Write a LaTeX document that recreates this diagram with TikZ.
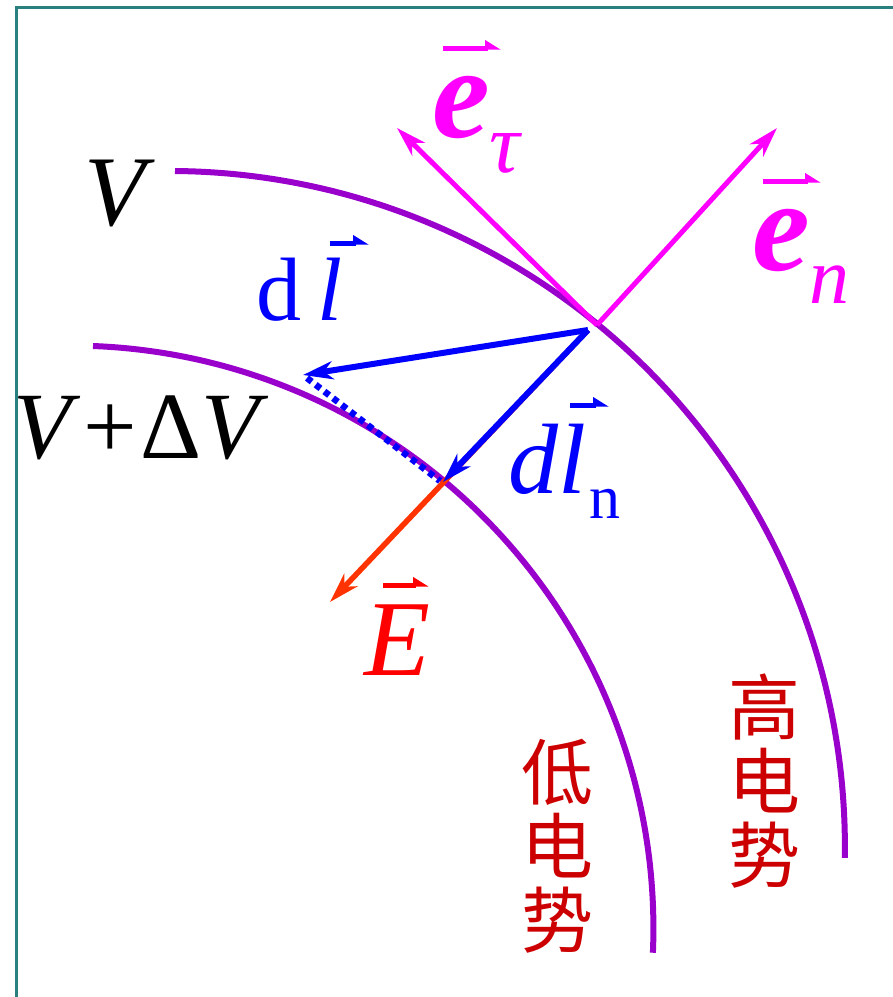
\documentclass[tikz,border=0pt]{standalone}
\usepackage{fontspec}
\setmainfont{Liberation Serif}
\newfontfamily\cjk{Noto Sans CJK SC}
\usetikzlibrary{arrows.meta}
\definecolor{frameteal}{HTML}{2A7F7F}
\definecolor{arcpurple}{HTML}{9900CC}
\definecolor{vmag}{HTML}{FF00FF}
\definecolor{vblue}{HTML}{0000FF}
\definecolor{eorange}{HTML}{FF3300}
\definecolor{ered}{HTML}{FF0000}
\definecolor{cjkred}{HTML}{CC0000}
\begin{document}
\begin{tikzpicture}[x=1pt,y=-1pt,
  frameline/.style={frameteal, line width=3pt},
  arcline/.style={arcpurple, line width=6pt},
  vecarrow/.style={line width=5.5pt, -{Stealth[length=30pt,width=18pt,inset=9pt]}},
  harp/.style={line width=5pt, -{Triangle[harpoon,length=13pt,width=15pt]}},
  lbl/.style={inner sep=0pt, outer sep=0pt},
  cjklbl/.style={inner sep=0pt, align=center, cjkred, font=\cjk\fontsize{72}{74}\selectfont},
]
\useasboundingbox (0,0) rectangle (893,997);
% frame
\draw[frameline] (16,998) -- (16,7) -- (894,7);
% equipotential arcs
\draw[arcline] (175,171) arc[start angle=-89.5, end angle=0.95, radius=675.8];
\draw[arcline] (93,346) arc[start angle=-87.8, end angle=2.4, radius=582.8];
% points
\coordinate (O) at (597,325);
\coordinate (B) at (588,330);
\coordinate (etau) at (397,128);
\coordinate (en) at (777,128);
\coordinate (dltip) at (303,375);
\coordinate (dlntip) at (443,482);
\coordinate (Etip) at (330,602);
\coordinate (dotA) at (307,378);
\coordinate (dotB) at (440,481);
% vectors
\draw[vecarrow, eorange] (B) -- (Etip);
\draw[vecarrow, vmag, line width=5pt] (O) -- (etau);
\draw[vecarrow, vmag, line width=5pt] (O) -- (en);
\draw[vblue, line width=6.5pt, dash pattern=on 6pt off 5pt] (dotA) -- (dotB);
\draw[vecarrow, vblue, line width=6pt] (B) -- (dltip);
\draw[vecarrow, vblue, line width=6pt] (B) -- (dlntip);
% labels
\node[lbl, anchor=base, font=\fontsize{100}{100}\selectfont] (lV) at (120,225) {\textit{V}};
\node[lbl, anchor=base, font=\fontsize{95}{95}\selectfont] (lVdV) at (141,458) {\textit{V}\kern3pt+\kern3ptΔ\textit{V}};
\node[lbl, anchor=base west, vblue, font=\fontsize{90}{90}\selectfont] (ldl) at (256,320) {d\kern16pt\textit{l}};
\draw[harp, vblue] (330,243) -- (369,243);
\node[lbl, anchor=base west, vblue, font=\fontsize{100}{100}\selectfont] (ldln) at (508,493) {\textit{dl}\kern4pt\raisebox{-25pt}{\fontsize{62}{62}\selectfont n}};
\draw[harp, vblue] (570,405) -- (609,405);
\node[lbl, anchor=base, ered, font=\fontsize{108}{108}\selectfont] (lE) at (397,675) {\textit{E}};
\draw[harp, ered] (383,585) -- (429,585);
\node[lbl, anchor=base west, vmag, font=\fontsize{130}{130}\selectfont] (let) at (432,137) {\textbf{\textit{e}}\raisebox{-35pt}{\fontsize{85}{85}\selectfont\textit{τ}}};
\draw[harp, vmag] (443,48) -- (501,48);
\node[lbl, anchor=base west, vmag, font=\fontsize{130}{130}\selectfont] (len) at (752,270) {\textbf{\textit{e}}\raisebox{-33pt}{\fontsize{80}{80}\selectfont\textit{n}}};
\draw[harp, vmag] (763,181) -- (821,181);
\node[cjklbl, anchor=north] (lhigh) at (764,674) {高\\电\\势};
\node[cjklbl, anchor=north] (llow) at (557,739) {低\\电\\势};
\end{tikzpicture}
\end{document}
